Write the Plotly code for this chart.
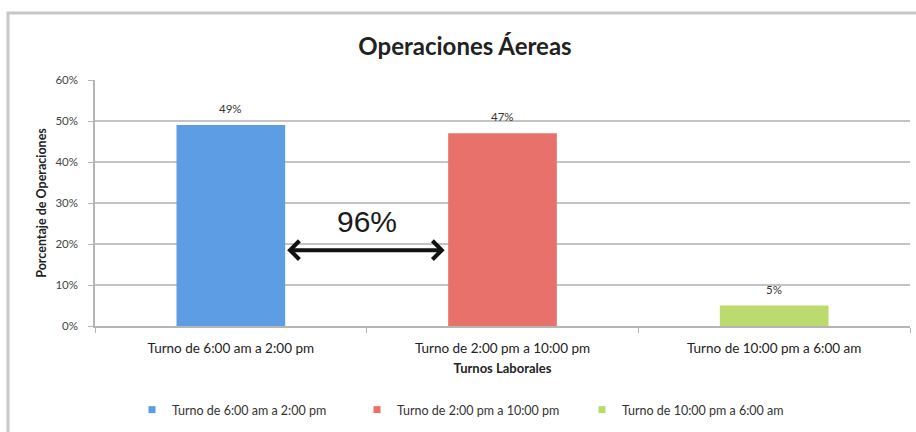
import plotly.graph_objects as go

# Shift categories and their share of air operations (%)
turnos = ["Turno de 6:00 am a 2:00 pm", "Turno de 2:00 pm a 10:00 pm", "Turno de 10:00 pm a 6:00 am"]
porcentajes = [49, 47, 5]
etiquetas = ["49%", "47%", "5%"]
colores = ["#5d9de3", "#e8726b", "#bcdb6e"]

# Y axis ticks
y_ticks = [0, 10, 20, 30, 40, 50, 60]
y_tick_text = ["0%", "10%", "20%", "30%", "40%", "50%", "60%"]

# Combined share of the two daytime shifts
suma_texto = "96%"

W, H = 916, 432
L, R, T, B = 95, 6, 80, 106
plot_w = W - L - R
plot_h = H - T - B

fig = go.Figure()
for nombre, valor, etiqueta, color in zip(turnos, porcentajes, etiquetas, colores):
    fig.add_trace(go.Bar(
        x=[nombre], y=[valor], name=nombre,
        marker=dict(color=color, line=dict(width=0)),
        width=0.4, showlegend=False,
    ))
    # Value label above each bar
    fig.add_annotation(
        x=nombre, y=valor, xref="x", yref="y", text=etiqueta, showarrow=False,
        yanchor="bottom", yshift=8,
        font=dict(family="Lato", size=11.5, color="#333333"),
    )

# Legend entries with small square keys
for nombre, color in zip(turnos, colores):
    fig.add_trace(go.Scatter(
        x=[None], y=[None], mode="markers", name=nombre,
        marker=dict(symbol="square", size=7, color=color),
        showlegend=True,
    ))

# Double-headed arrow spanning the gap between the first two bars
fig.add_annotation(
    x=0.2, y=18.5, ax=0.8, ay=18.5, xref="x", yref="y", axref="x", ayref="y",
    text="", showarrow=True, arrowhead=4, startarrowhead=4, arrowside="end+start",
    arrowwidth=4, arrowsize=0.9, startarrowsize=0.9, arrowcolor="#111111",
    standoff=2, startstandoff=2,
)
fig.add_annotation(
    x=0.5, y=25.4, xref="x", yref="y", text=suma_texto, showarrow=False,
    font=dict(family="Liberation Sans", size=30, color="#1a1a1a"),
)

# Chart frame (left and top edges visible)
fig.add_shape(
    type="rect", xref="paper", yref="paper",
    x0=(8 - L) / plot_w, x1=(W + 10 - L) / plot_w,
    y0=-(H + 10 - (T + plot_h)) / plot_h, y1=(T + plot_h - 13) / plot_h,
    line=dict(color="#c8c8c8", width=3), layer="below",
)

fig.update_layout(
    width=W, height=H,
    margin=dict(l=L, r=R, t=T, b=B),
    paper_bgcolor="white", plot_bgcolor="white",
    bargap=0.6,
    showlegend=True,
    title=dict(
        text="<b>Operaciones Áereas</b>",
        x=465 / W, xref="container", xanchor="center",
        y=1 - 47 / H, yref="container", yanchor="middle",
        font=dict(family="Lato", size=24, color="#222222"),
    ),
    legend=dict(
        orientation="h", x=(132 - L) / plot_w, xanchor="left",
        y=-(410 - (T + plot_h)) / plot_h, yanchor="middle",
        font=dict(family="Lato", size=12.5, color="#333333"),
        entrywidth=180, entrywidthmode="pixels",
        itemwidth=30, traceorder="normal",
    ),
    xaxis=dict(
        categoryorder="array", categoryarray=turnos,
        range=[-0.5, 2.5],
        showline=True, linecolor="#b5b5b5", linewidth=1.5,
        ticks="outside", tickson="boundaries", ticklen=5, tickcolor="#b5b5b5",
        tickfont=dict(family="Lato", size=13.5, color="#222222"),
        ticklabelstandoff=9,
        title=dict(text="<b>Turnos Laborales</b>", standoff=9,
                   font=dict(family="Lato", size=13, color="#222222")),
        showgrid=False,
    ),
    yaxis=dict(
        range=[0, 60], tickvals=y_ticks, ticktext=y_tick_text,
        showline=True, linecolor="#b5b5b5", linewidth=1.5,
        ticks="outside", ticklen=5, tickcolor="#b5b5b5",
        tickfont=dict(family="Lato", size=11.5, color="#444444"),
        ticklabelstandoff=8,
        showgrid=True, gridcolor="#c4c4c4", gridwidth=1.5,
        title=dict(text="<b>Porcentaje de Operaciones</b>", standoff=6,
                   font=dict(family="Lato", size=12.5, color="#222222")),
        zeroline=False,
    ),
)

fig.write_html("out.html")
